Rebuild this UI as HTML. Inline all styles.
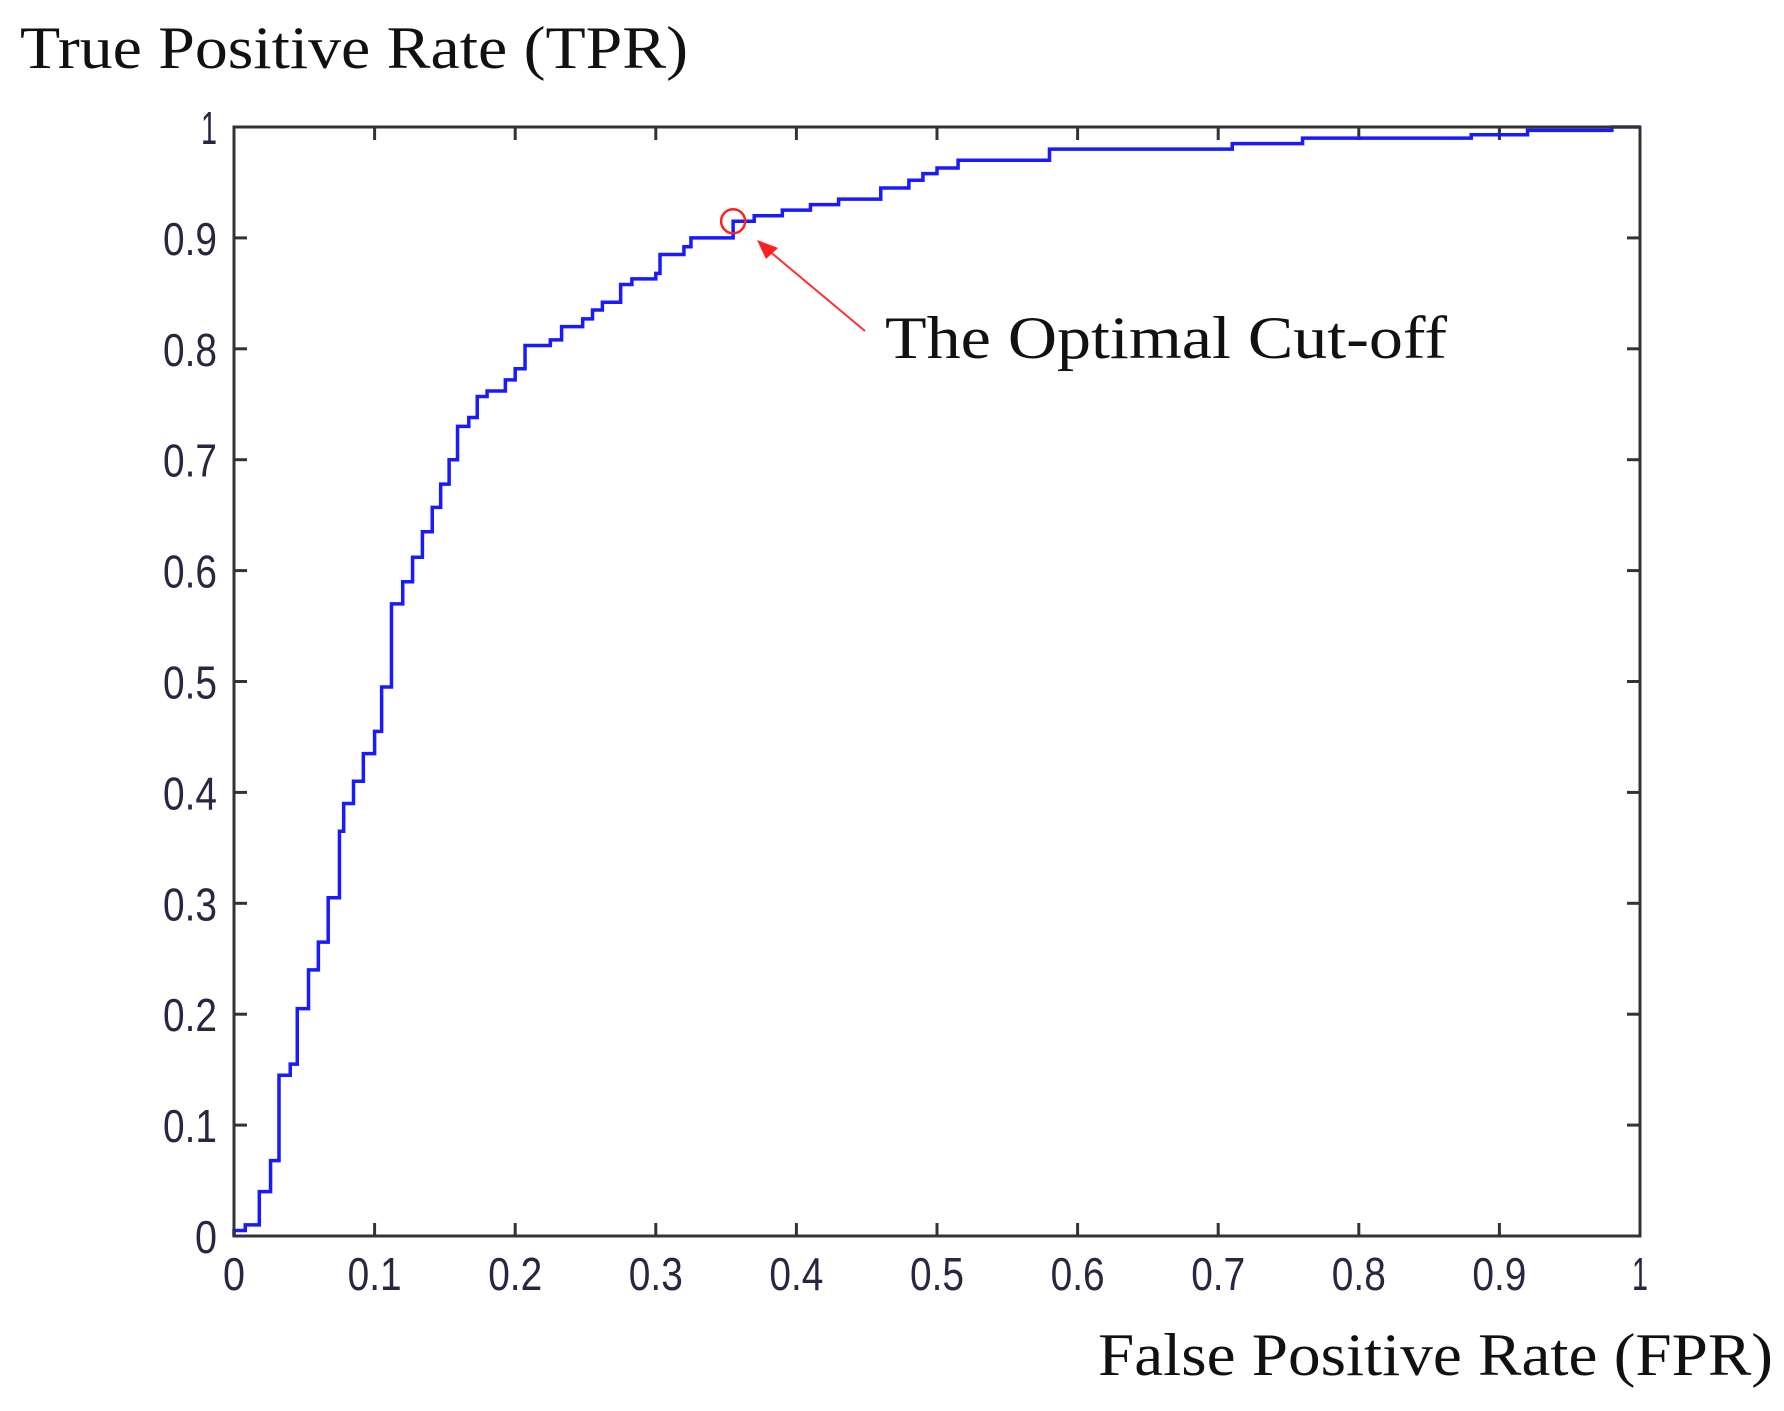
<!DOCTYPE html>
<html><head><meta charset="utf-8"><style>
html,body{margin:0;padding:0;background:#fff;}
svg{display:block;}
</style></head><body>
<svg id="chart" width="1784" height="1411" viewBox="0 0 1784 1411" xmlns="http://www.w3.org/2000/svg">
<rect width="1784" height="1411" fill="#fff"/>
<text x="20" y="68" font-family="Liberation Serif, serif" font-size="60" fill="#111" textLength="668" lengthAdjust="spacingAndGlyphs">True Positive Rate (TPR)</text>
<text x="1098" y="1375" font-family="Liberation Serif, serif" font-size="60" fill="#111" textLength="675" lengthAdjust="spacingAndGlyphs">False Positive Rate (FPR)</text>
<g id="ticks"></g>
<path id="curve" fill="none" stroke="#1a1aff" stroke-width="3.5"/>
<rect x="234" y="127" width="1406" height="1109" fill="none" stroke="#333" stroke-width="3"/>
<circle id="cutoff" r="12" fill="none" stroke="#ff2020" stroke-width="2.5"/>
<line x1="865" y1="331" x2="768" y2="250" stroke="#ff3030" stroke-width="2"/>
<polygon points="757,240 778,248 766,259" fill="#ff2020"/>
<text x="885" y="358" font-family="Liberation Serif, serif" font-size="60" fill="#111" textLength="562" lengthAdjust="spacingAndGlyphs">The Optimal Cut-off</text>
</svg>
<script>
const fprSteps=[0,0.008,0.018,0.026,0.032,0.040,0.045,0.053,0.060,0.067,0.075,0.078,0.085,0.092,0.100,0.105,0.112,0.120,0.127,0.134,0.141,0.147,0.153,0.159,0.167,0.173,0.180,0.193,0.200,0.207,0.225,0.233,0.248,0.255,0.262,0.275,0.283,0.300,0.303,0.320,0.325,0.355,0.370,0.390,0.410,0.430,0.460,0.480,0.490,0.500,0.515,0.580,0.710,0.760,0.880,0.920,0.980];
const tprSteps=[0.005,0.010,0.040,0.068,0.145,0.155,0.205,0.240,0.265,0.305,0.365,0.390,0.410,0.435,0.455,0.495,0.570,0.590,0.612,0.635,0.657,0.678,0.700,0.730,0.738,0.757,0.762,0.772,0.782,0.803,0.808,0.820,0.827,0.835,0.842,0.858,0.863,0.868,0.885,0.892,0.900,0.915,0.920,0.925,0.930,0.935,0.945,0.952,0.958,0.963,0.970,0.980,0.985,0.990,0.993,0.997,1.000];
const cutoffPoint=[0.355,0.915];
const tickValues=[0,0.1,0.2,0.3,0.4,0.5,0.6,0.7,0.8,0.9,1];
const tickLabels=["0","0.1","0.2","0.3","0.4","0.5","0.6","0.7","0.8","0.9","1"];
const X0=234,X1=1640,Y0=1236,Y1=127;
function sx(v){return X0+(X1-X0)*v;}
function sy(v){return Y0-(Y0-Y1)*v;}
const NS="http://www.w3.org/2000/svg";
let d="M"+sx(0)+","+sy(0);
for(let i=0;i<fprSteps.length;i++){
  d+=" L"+sx(fprSteps[i])+","+(i?sy(tprSteps[i-1]):sy(0));
  d+=" L"+sx(fprSteps[i])+","+sy(tprSteps[i]);
}
d+=" L"+sx(1)+","+sy(tprSteps[tprSteps.length-1]);
document.getElementById('curve').setAttribute('d',d);
const c=document.getElementById('cutoff');
c.setAttribute('cx',sx(cutoffPoint[0]));c.setAttribute('cy',sy(cutoffPoint[1]));
const g=document.getElementById('ticks');
function mk(tag,attrs){const e=document.createElementNS(NS,tag);for(const k in attrs)e.setAttribute(k,attrs[k]);g.appendChild(e);return e;}
function tl(s){return s.length===1?(s==="1"?16:22):54;}
tickValues.forEach((v,i)=>{
  const x=sx(v),y=sy(v);
  let t;
  t=mk('line',{x1:x,y1:Y0,x2:x,y2:Y0-13,stroke:'#333','stroke-width':3});
  
  
  t=mk('line',{x1:x,y1:Y1,x2:x,y2:Y1+13,stroke:'#333','stroke-width':3});
  
  
  t=mk('line',{x1:X0,y1:y,x2:X0+13,y2:y,stroke:'#333','stroke-width':3});
  
  
  t=mk('line',{x1:X1,y1:y,x2:X1-13,y2:y,stroke:'#333','stroke-width':3});
  
  
  const lx=mk('text',{x:x-tl(tickLabels[i])/2,y:1290,'font-family':'Liberation Sans, sans-serif','font-size':46,fill:'#2a2540',textLength:tl(tickLabels[i]),lengthAdjust:'spacingAndGlyphs'});
  lx.textContent=tickLabels[i];
  
  
  const ly=mk('text',{x:217-tl(tickLabels[i]),y:y+17,'font-family':'Liberation Sans, sans-serif','font-size':46,fill:'#2a2540',textLength:tl(tickLabels[i]),lengthAdjust:'spacingAndGlyphs'});
  ly.textContent=tickLabels[i];
  
  
});
</script>
</body></html>
